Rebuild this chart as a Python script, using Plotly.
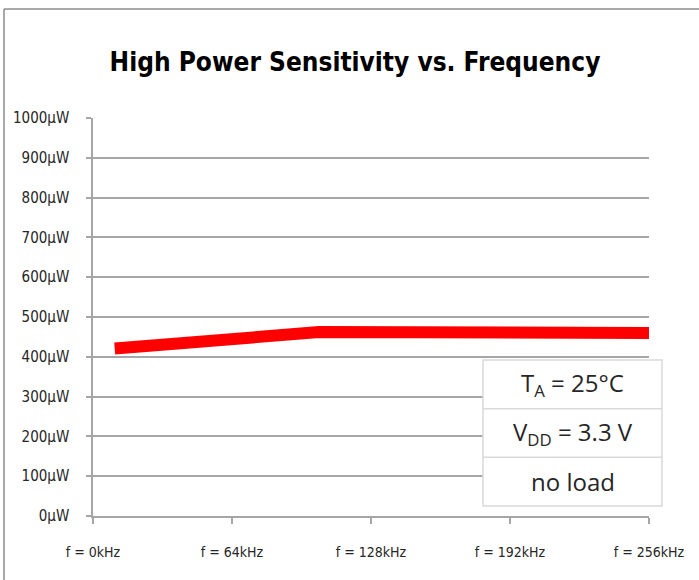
import plotly.graph_objects as go

# Data
freq_khz = [10, 104, 256]
sensitivity_uw = [421, 462, 460]

x_tick_vals = [0, 64, 128, 192, 256]
x_tick_text = ["f = 0kHz", "f = 64kHz", "f = 128kHz", "f = 192kHz", "f = 256kHz"]
y_tick_vals = list(range(0, 1001, 100))
y_tick_text = [f"{v}μW" for v in y_tick_vals]

table_rows = ["T<sub>A</sub> = 25°C", "V<sub>DD</sub> = 3.3 V", "no load"]

W, H = 699, 580
L, T = 93, 118
R = W - 649
B = H - 516
pw, ph = W - L - R, H - T - B

def px_to_paper_x(px):
    return (px - L) / pw

def px_to_paper_y(py):
    return (H - B - py) / ph

FONT = "DejaVu Sans Condensed, Liberation Sans Narrow, Liberation Sans, sans-serif"
GRID = "#a6a6a6"

fig = go.Figure()
fig.add_trace(go.Scatter(
    x=freq_khz, y=sensitivity_uw, mode="lines",
    line=dict(color="#ff0000", width=12),
    showlegend=False, hoverinfo="skip",
))

shapes = []
# outer chart border (left and top)
shapes.append(dict(type="line", xref="paper", yref="paper",
                   x0=px_to_paper_x(4), x1=px_to_paper_x(4),
                   y0=px_to_paper_y(600), y1=px_to_paper_y(9),
                   line=dict(color="#8c8c8c", width=1.5), layer="above"))
shapes.append(dict(type="line", xref="paper", yref="paper",
                   x0=px_to_paper_x(4), x1=px_to_paper_x(720),
                   y0=px_to_paper_y(9), y1=px_to_paper_y(9),
                   line=dict(color="#8c8c8c", width=1.5), layer="above"))

# condition table box
bx0, bx1 = 483, 662
by0, by1 = 360, 506
row_h = (by1 - by0) / len(table_rows)
shapes.append(dict(type="rect", xref="paper", yref="paper",
                   x0=px_to_paper_x(bx0), x1=px_to_paper_x(bx1),
                   y0=px_to_paper_y(by1), y1=px_to_paper_y(by0),
                   fillcolor="white", line=dict(color="#d9d9d9", width=1.5),
                   layer="above"))
annotations = []
for i, txt in enumerate(table_rows):
    if i > 0:
        yy = by0 + i * row_h
        shapes.append(dict(type="line", xref="paper", yref="paper",
                           x0=px_to_paper_x(bx0), x1=px_to_paper_x(bx1),
                           y0=px_to_paper_y(yy), y1=px_to_paper_y(yy),
                           line=dict(color="#d9d9d9", width=1.5), layer="above"))
    annotations.append(dict(
        xref="paper", yref="paper",
        x=px_to_paper_x((bx0 + bx1) / 2), y=px_to_paper_y(by0 + (i + 0.5) * row_h),
        text=txt, showarrow=False, xanchor="center", yanchor="middle",
        font=dict(family="Open Sans, Liberation Sans, sans-serif", size=24, color="#262626"),
    ))

fig.update_layout(
    width=W, height=H,
    margin=dict(l=L, r=R, t=T, b=B),
    paper_bgcolor="white", plot_bgcolor="white",
    title=dict(text="<b>High Power Sensitivity vs. Frequency</b>",
               x=355 / W, xanchor="center", y=1 - 62 / H, yanchor="middle",
               font=dict(family=FONT, size=26, color="black")),
    xaxis=dict(range=[0, 256], tickvals=x_tick_vals, ticktext=x_tick_text,
               showgrid=False, zeroline=False, showline=True, linecolor=GRID, linewidth=1.5,
               ticks="outside", ticklen=6, tickcolor=GRID, tickwidth=1.5,
               tickfont=dict(family=FONT, size=14, color="#262626"), ticklabelstandoff=16),
    yaxis=dict(range=[0, 1000], tickvals=y_tick_vals, ticktext=y_tick_text,
               showgrid=True, gridcolor=GRID, gridwidth=1.5, zeroline=False,
               showline=True, linecolor=GRID, linewidth=1.5,
               ticks="outside", ticklen=5, tickcolor=GRID, tickwidth=1.5,
               tickfont=dict(family=FONT, size=15, color="#262626"), ticklabelstandoff=14),
    shapes=shapes, annotations=annotations,
)

fig.write_html("out.html", config={"displayModeBar": False},
               post_script="document.body.style.margin='0';")
